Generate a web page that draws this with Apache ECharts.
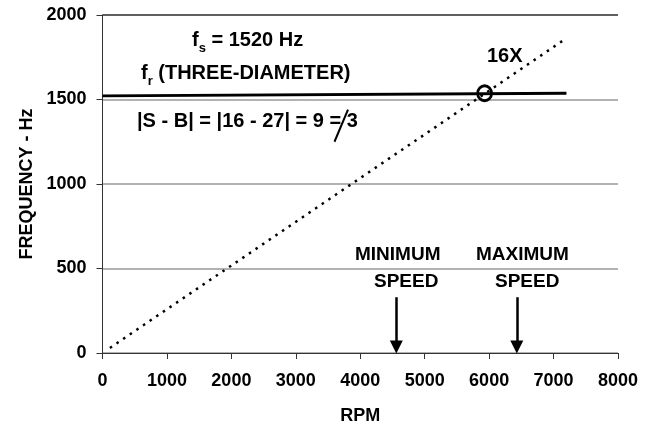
<!DOCTYPE html>
<html>
<head>
<meta charset="utf-8">
<script src="https://cdn.jsdelivr.net/npm/echarts@6/dist/echarts.min.js"></script>
<style>
  html, body { margin: 0; padding: 0; background: #fff; }
  #chart { width: 655px; height: 432px; }
</style>
</head>
<body>
<div id="chart"></div>
<script>
// Axis ranges and ticks
const rpmTicks = [0, 1000, 2000, 3000, 4000, 5000, 6000, 7000, 8000];
const freqTicks = [0, 500, 1000, 1500, 2000];

// 16X order line (RPM, Hz)
const orderLine = [[115, 30], [7190, 1860]];
// Three-diameter resonance fr (RPM, Hz)
const resonanceLine = [[0, 1521], [7200, 1537]];
// Crossing marker (RPM, Hz)
const crossing = [[5930, 1537]];
// Operating speed range (RPM)
const speedLimits = [4560, 6430];
const arrowSpan = [330, 35]; // arrow top and tip (Hz)

const FONT = '"Liberation Sans", Arial, sans-serif';
const chart = echarts.init(document.getElementById('chart'));

const bold = (size) => ({ fontFamily: FONT, fontWeight: 'bold', fontSize: size, color: '#000' });

chart.setOption({
  animation: false,
  backgroundColor: '#fff',
  grid: { left: 102.5, right: 37, top: 15, bottom: 79, containLabel: false },
  xAxis: {
    type: 'value',
    min: rpmTicks[0], max: rpmTicks[rpmTicks.length - 1], interval: 1000,
    name: 'RPM', nameLocation: 'middle', nameGap: 54,
    nameTextStyle: bold(18),
    axisLine: { lineStyle: { color: '#333', width: 1 } },
    axisTick: { show: true, length: 6, lineStyle: { color: '#333' } },
    axisLabel: Object.assign(bold(18), { margin: 19, formatter: v => String(v) }),
    splitLine: { show: false }
  },
  yAxis: {
    type: 'value',
    min: freqTicks[0], max: freqTicks[freqTicks.length - 1], interval: 500,
    name: 'FREQUENCY - Hz', nameLocation: 'middle', nameGap: 66,
    nameTextStyle: bold(18),
    axisLine: { show: true, lineStyle: { color: '#333', width: 1 } },
    axisTick: { show: true, length: 6, lineStyle: { color: '#333' } },
    axisLabel: Object.assign(bold(18), { margin: 16, formatter: v => String(v) }),
    splitLine: { show: true, lineStyle: { color: '#999', width: 1.5 } }
  },
  series: [
    {
      type: 'line', data: orderLine, symbol: 'none',
      lineStyle: { color: '#000', width: 2.5, type: [2.5, 5.5] },
      z: 3
    },
    {
      type: 'line', data: resonanceLine, symbol: 'none',
      lineStyle: { color: '#000', width: 2.8 },
      z: 4,
      markLine: {
        silent: true,
        symbol: ['none', 'triangle'],
        symbolSize: [13, 13],
        symbolRotate: 180,
        label: { show: false },
        lineStyle: { color: '#000', width: 2.5, type: 'solid' },
        data: speedLimits.map(s => [
          { coord: [s, arrowSpan[0]], symbol: 'none' },
          { coord: [s, arrowSpan[1]], symbol: 'triangle' }
        ])
      }
    },
    {
      type: 'scatter', data: crossing, symbol: 'circle', symbolSize: [14, 15],
      itemStyle: { color: 'rgba(0,0,0,0)', borderColor: '#000', borderWidth: 2.8, opacity: 1 },
      z: 5
    }
  ]
});

// Text annotations in pixel space, anchored to the plot
const richFor = (size) => ({
  m: { fontFamily: FONT, fontWeight: 'bold', fontSize: size, color: '#000', verticalAlign: 'middle', lineHeight: 22 },
  s: { fontFamily: FONT, fontWeight: 'bold', fontSize: 13, color: '#000', verticalAlign: 'bottom', lineHeight: 30 }
});

const [p1, p2] = [chart.convertToPixel({ gridIndex: 0 }, [3600, 1250]), chart.convertToPixel({ gridIndex: 0 }, [3810, 1440])];
const plain = (x, y, t) => ({ type: 'text', left: x, top: y, style: { text: t, font: 'bold 19px ' + FONT, fill: '#000' } });

chart.setOption({
  graphic: [
    { type: 'text', left: 192, top: 30, style: { text: '{m|f}{s|s}{m| = 1520 Hz}', rich: richFor(20) } },
    { type: 'text', left: 141, top: 63, style: { text: '{m|f}{s|r}{m| (THREE-DIAMETER)}', rich: richFor(20) } },
    { type: 'text', left: 137, top: 111, style: { text: '{m||S - B| = |16 - 27| = 9 = 3}', rich: richFor(20) } },
    { type: 'text', left: 487, top: 46, style: { text: '16X', font: 'bold 20px ' + FONT, fill: '#000' } },
    plain(355, 245, 'MINIMUM'),
    plain(374, 272, 'SPEED'),
    plain(476, 245, 'MAXIMUM'),
    plain(495, 272, 'SPEED'),
    { type: 'line', z: 11, shape: { x1: p1[0], y1: p1[1], x2: p2[0], y2: p2[1] }, style: { stroke: '#000', lineWidth: 2 } },
    // top boundary line of plot area
    { type: 'line', z: 2, shape: { x1: 102.5, y1: 15, x2: 618, y2: 15 }, style: { stroke: '#444', lineWidth: 1.5 } }
  ]
});
</script>
</body>
</html>
